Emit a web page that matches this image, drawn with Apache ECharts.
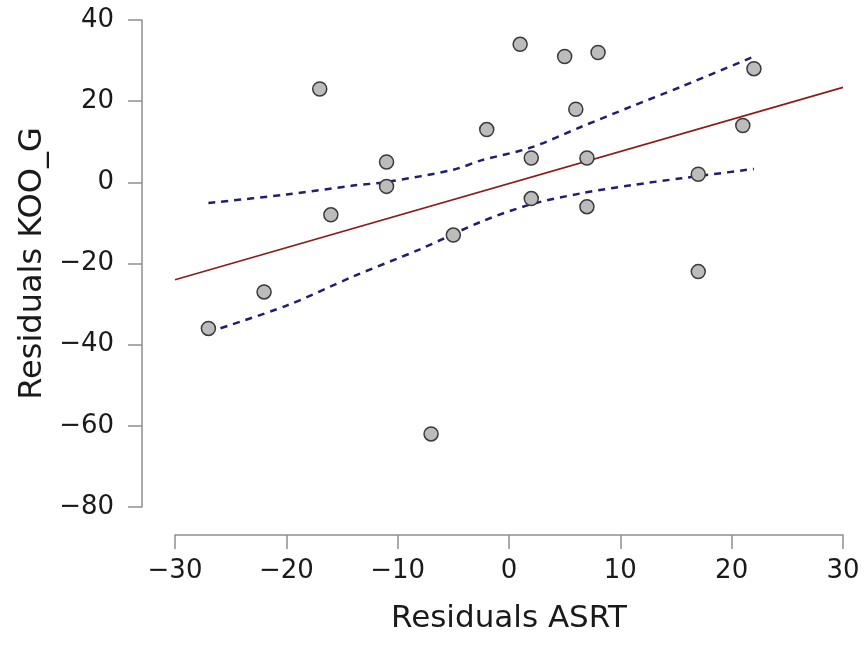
<!DOCTYPE html>
<html>
<head>
<meta charset="utf-8">
<script src="https://cdn.jsdelivr.net/npm/echarts@6/dist/echarts.min.js"></script>
<style>
  html, body { margin: 0; padding: 0; background: #fff; }
  #main { width: 867px; height: 645px; }
</style>
</head>
<body>
<div id="main"></div>
<script>
// residual points
var residX = [-27, -22, -17, -16, -11, -11, -7, -5, -2, 1, 2, 2, 5, 6, 7, 7, 8, 17, 17, 21, 22];
var residY = [-36, -27, 23, -8, 5, -1, -62, -13, 13, 34, 6, -4, 31, 18, 6, -6, 32, 2, -22, 14, 28];

// fitted line
var fitX = [-30, 30];
var fitY = [-24, 23.4];

// confidence band
var upperX = [-27, -20, -14, -11, -5, -2.5, 2, 6.5, 11, 15.5, 22];
var upperY = [-5.1, -3.0, -0.8, 0.1, 3.1, 5.4, 8.6, 13.7, 18.7, 23.6, 31.0];
var lowerX = [-27, -20, -14, -8, -2.5, 2, 6.5, 11, 15.5, 22];
var lowerY = [-36.9, -30.4, -23.2, -16.5, -9.7, -5.4, -2.7, -0.7, 1.0, 3.3];

function pairs(xs, ys) {
  return xs.map(function (x, i) { return [x, ys[i]]; });
}
function minusSign(v) {
  return String(v).replace('-', '\u2212');
}

var chart = echarts.init(document.getElementById('main'));
var font = 'DejaVu Sans';
var axisGray = '#8e8e8e';

var option = {
  backgroundColor: '#fff',
  animation: false,
  grid: { left: 175, right: 24, top: 20, bottom: 138 },
  xAxis: {
    type: 'value',
    min: -30, max: 30, interval: 10,
    offset: 28,
    name: 'Residuals ASRT',
    nameLocation: 'middle',
    nameGap: 68,
    nameTextStyle: { fontFamily: font, fontSize: 31, color: '#1a1a1a' },
    axisLine: { show: true, onZero: false, lineStyle: { color: axisGray, width: 1.5 } },
    axisTick: { show: true, length: 14, lineStyle: { color: axisGray, width: 1.5 } },
    axisLabel: { margin: 23, fontFamily: font, fontSize: 26, color: '#1a1a1a', formatter: minusSign },
    splitLine: { show: false }
  },
  yAxis: {
    type: 'value',
    min: -80, max: 40, interval: 20,
    offset: 33,
    name: 'Residuals KOO_G',
    nameLocation: 'middle',
    nameGap: 90,
    nameTextStyle: { fontFamily: font, fontSize: 32, color: '#1a1a1a' },
    axisLine: { show: true, onZero: false, lineStyle: { color: axisGray, width: 1.5 } },
    axisTick: { show: true, length: 14, lineStyle: { color: axisGray, width: 1.5 } },
    axisLabel: { margin: 28, fontFamily: font, fontSize: 26, color: '#1a1a1a', formatter: minusSign },
    splitLine: { show: false }
  },
  series: [
    {
      type: 'line',
      data: pairs(fitX, fitY),
      symbol: 'none',
      lineStyle: { color: '#8b1c1c', width: 1.6 },
      z: 2
    },
    {
      type: 'line',
      data: pairs(upperX, upperY),
      symbol: 'none',
      smooth: 0.3,
      lineStyle: { color: '#1f1f6e', width: 2.5, type: [7, 6] },
      z: 2
    },
    {
      type: 'line',
      data: pairs(lowerX, lowerY),
      symbol: 'none',
      smooth: 0.3,
      lineStyle: { color: '#1f1f6e', width: 2.5, type: [7, 6] },
      z: 2
    },
    {
      type: 'scatter',
      data: pairs(residX, residY),
      symbolSize: 14,
      itemStyle: { color: '#bcbcbc', borderColor: '#3a3a3a', borderWidth: 1.5, opacity: 1 },
      z: 5
    }
  ]
};
chart.setOption(option);
</script>
</body>
</html>
